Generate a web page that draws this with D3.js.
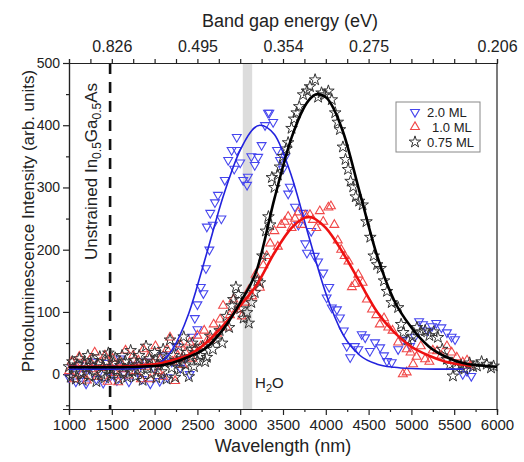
<!DOCTYPE html>
<html>
<head>
<meta charset="utf-8">
<script src="https://cdn.jsdelivr.net/npm/d3@7"></script>
<style>
  body { margin: 0; background: #fff; }
  text { font-family: "Liberation Sans", Arial, sans-serif; fill: #222; }
</style>
</head>
<body>
<div id="chart"></div>
<script>
// measured points [wavelength nm, intensity] for each coverage
const ml20 = [
  [1000,-5],[1040,10],[1080,-12],[1120,15],[1160,0],[1200,-15],[1240,8],[1280,20],[1320,-8],[1360,5],
  [1400,-14],[1440,18],[1480,-4],[1520,10],[1560,-10],[1600,25],[1650,0],[1700,-12],[1750,15],[1800,5],
  [1850,-8],[1900,20],[1950,-15],[2000,8],[2060,-11],[2100,30],[2150,-5],[2200,20],[2250,45],[2300,10],
  [2350,25],[2410,0],[2440,60],[2470,90],[2500,72],[2500,112],[2540,140],[2570,130],[2600,170],[2610,237],
  [2640,200],[2650,259],[2680,240],[2705,276],[2740,288],[2780,250],[2820,312],[2860,344],[2900,360],[2930,330],
  [2960,360],[2960,381],[3000,340],[3035,312],[3080,304],[3090,317],[3130,350],[3170,336],[3210,349],[3250,368],
  [3290,400],[3325,420],[3340,420],[3385,405],[3430,360],[3465,344],[3500,330],[3525,349],[3560,290],[3580,301],
  [3640,269],[3680,240],[3735,259],[3760,210],[3780,195],[3830,230],[3870,190],[3910,181],[3970,163],[4010,123],
  [4040,140],[4070,107],[4130,104],[4165,91],[4210,70],[4245,45],[4285,27],[4340,45],[4380,40],[4420,64],
  [4460,59],[4515,37],[4575,51],[4635,43],[4680,30],[4715,21],[4770,19],[4845,40],[4900,55],[4985,45],
  [5040,60],[5090,85],[5135,80],[5190,70],[5240,77],[5290,82],[5350,75],[5415,67],[5470,60],[5510,56],
  [5600,0],[5650,5],[5700,-3]
];
const ml10 = [
  [1000,5],[1030,20],[1060,-8],[1090,12],[1120,28],[1150,0],[1180,15],[1210,-10],[1240,22],[1270,8],
  [1300,35],[1330,-4],[1360,18],[1390,10],[1420,30],[1450,-12],[1480,14],[1510,25],[1540,2],[1575,-13],
  [1600,20],[1630,8],[1660,38],[1690,-2],[1720,15],[1750,30],[1780,5],[1810,22],[1840,-8],[1870,40],
  [1900,12],[1930,28],[1950,-8],[1980,18],[2010,45],[2040,5],[2070,25],[2100,-4],[2145,40],[2180,59],
  [2210,20],[2240,-11],[2270,30],[2300,48],[2330,15],[2360,35],[2410,51],[2440,25],[2470,40],[2500,62],
  [2540,45],[2580,70],[2620,55],[2650,56],[2690,80],[2730,65],[2765,88],[2800,110],[2840,75],[2880,95],
  [2920,120],[2960,104],[3020,93],[3060,115],[3100,135],[3140,125],[3180,160],[3230,139],[3270,175],[3310,190],
  [3350,210],[3400,230],[3440,205],[3480,240],[3520,245],[3560,253],[3600,235],[3640,250],[3680,260],[3720,240],
  [3760,255],[3815,256],[3850,248],[3890,235],[3930,262],[3970,245],[4030,268],[4060,270],[4100,240],[4140,215],
  [4180,200],[4220,190],[4265,181],[4305,140],[4340,145],[4380,160],[4430,147],[4480,120],[4540,104],[4590,95],
  [4630,80],[4680,90],[4730,75],[4780,70],[4845,51],[4900,0],[4945,40],[4945,3],[4990,35],[5020,16],
  [5060,28],[5110,45],[5160,24],[5210,20],[5250,38],[5300,37],[5350,30],[5415,45],[5470,35],[5530,27],
  [5600,19],[5650,22],[5690,14]
];
const ml075 = [
  [1000,12],[1020,-5],[1040,20],[1060,8],[1080,-8],[1100,15],[1120,25],[1140,2],[1160,-10],[1180,18],
  [1200,10],[1220,30],[1240,-3],[1260,14],[1280,22],[1300,5],[1320,-12],[1340,16],[1360,28],[1380,0],
  [1400,12],[1420,-6],[1440,20],[1460,34],[1480,8],[1500,-2],[1520,18],[1540,26],[1560,6],[1580,-8],
  [1600,14],[1620,30],[1640,2],[1660,20],[1680,-5],[1700,12],[1720,38],[1740,4],[1760,22],[1780,-4],
  [1800,15],[1820,30],[1840,8],[1860,-10],[1880,18],[1900,45],[1920,10],[1940,25],[1960,0],[1980,20],
  [2000,35],[2020,-6],[2040,14],[2060,28],[2080,4],[2100,40],[2120,18],[2140,-8],[2160,22],[2180,55],
  [2200,10],[2220,30],[2240,-5],[2260,20],[2280,45],[2300,8],[2320,25],[2340,60],[2360,15],[2380,35],
  [2400,-4],[2420,28],[2440,50],[2460,12],[2480,40],[2500,22],[2530,30],[2560,45],[2590,20],[2610,27],
  [2650,61],[2680,40],[2720,55],[2760,70],[2790,50],[2840,93],[2870,75],[2900,110],[2920,120],[2950,140],
  [2980,128],[3000,105],[3040,90],[3080,99],[3100,82],[3130,115],[3170,131],[3200,150],[3230,147],[3260,190],
  [3300,230],[3330,253],[3350,240],[3370,316],[3400,300],[3440,320],[3465,333],[3500,350],[3540,362],[3560,372],
  [3600,395],[3630,410],[3660,420],[3690,430],[3735,449],[3780,455],[3815,462],[3875,473],[3910,445],[3950,452],
  [3990,449],[4030,455],[4070,441],[4110,420],[4140,405],[4165,393],[4200,365],[4230,345],[4260,329],[4290,310],
  [4320,301],[4350,285],[4390,278],[4430,272],[4475,245],[4520,220],[4560,190],[4600,176],[4640,170],[4680,150],
  [4715,133],[4770,115],[4845,107],[4880,80],[4905,67],[4960,55],[5010,60],[5065,75],[5110,68],[5160,70],
  [5210,62],[5260,68],[5310,59],[5360,40],[5415,24],[5450,15],[5485,-3],[5530,10],[5580,14],[5620,8],
  [5680,18],[5720,12],[5765,13],[5820,20],[5880,16],[5930,10],[5960,13]
];

// fitted curves
const fit20 = [
  [1000,8],[1500,8],[1800,9],[2000,14],[2200,38],[2400,98],[2600,190],[2800,285],[3000,360],[3230,400],
  [3400,385],[3600,318],[3800,222],[4000,130],[4200,64],[4400,30],[4600,16],[4800,11],[5000,9],[5300,8],[5600,8]
];
const fit10 = [
  [1000,12],[1500,12],[2000,16],[2200,22],[2400,31],[2600,50],[2800,78],[3000,110],[3200,145],[3400,195],
  [3600,235],[3800,253],[4000,235],[4200,195],[4400,147],[4600,100],[4800,67],[5000,44],[5200,30],[5400,20],
  [5600,15],[5700,13]
];
const fit075 = [
  [1000,11],[1500,11],[2000,13],[2200,18],[2400,28],[2600,42],[2800,72],[3000,115],[3200,170],[3400,282],
  [3600,380],[3800,440],[3900,450],[4000,445],[4200,390],[4400,290],[4600,190],[4800,118],[5000,75],[5200,45],
  [5400,28],[5600,18],[5800,14],[6000,12]
];

const topTicks = [1500, 2500, 3500, 4500, 6000];
const topLabels = ["0.826", "0.495", "0.354", "0.275", "0.206"];
const legendNames = ["2.0 ML", "1.0 ML", "0.75 ML"];

const width = 524, height = 462;
const margin = { top: 63, right: 27, bottom: 53, left: 69 };

const svg = d3.select("#chart").append("svg")
    .attr("width", width)
    .attr("height", height);

const x = d3.scaleLinear().domain([1000, 6000]).range([margin.left, width - margin.right]);
const y = d3.scaleLinear().domain([-56, 500]).range([height - margin.bottom, margin.top]);

// H2O absorption band
svg.append("rect")
    .attr("x", x(3030))
    .attr("y", margin.top)
    .attr("width", x(3140) - x(3030))
    .attr("height", y(-56) - y(500))
    .attr("fill", "#dcdcdc");

// InGaAs dashed marker
svg.append("line")
    .attr("x1", x(1480)).attr("x2", x(1480))
    .attr("y1", margin.top).attr("y2", y(-56))
    .attr("stroke", "#111")
    .attr("stroke-width", 2.6)
    .attr("stroke-dasharray", "11,8");

// axes
const bottomAxis = d3.axisBottom(x).tickValues(d3.range(1000, 6001, 500)).tickSize(6).tickPadding(4)
    .tickFormat(d3.format("d"));
const bottomMinor = d3.axisBottom(x).tickValues(d3.range(1250, 6000, 500)).tickSize(3).tickFormat("");
const topMinor = d3.axisTop(x).tickValues(d3.range(1000, 6001, 250)).tickSize(4).tickFormat("");
const topAxis = d3.axisTop(x).tickValues(topTicks).tickSize(0).tickPadding(11)
    .tickFormat((d, i) => topLabels[i]);
const leftAxis = d3.axisLeft(y).tickValues(d3.range(0, 501, 100)).tickSize(6).tickPadding(3)
    .tickFormat(d3.format("d"));
const leftMinor = d3.axisLeft(y).tickValues(d3.range(-50, 500, 100)).tickSize(3).tickFormat("");

const gB = svg.append("g").attr("transform", `translate(0,${y(-56)})`).call(bottomAxis);
svg.append("g").attr("transform", `translate(0,${y(-56)})`).call(bottomMinor);
svg.append("g").attr("transform", `translate(0,${margin.top})`).call(topMinor);
const gT = svg.append("g").attr("transform", `translate(0,${margin.top})`).call(topAxis);
const gL = svg.append("g").attr("transform", `translate(${margin.left},0)`).call(leftAxis);
svg.append("g").attr("transform", `translate(${margin.left},0)`).call(leftMinor);

gB.selectAll("text").attr("font-size", 15);
gT.selectAll("text").attr("font-size", 16);
gL.selectAll("text").attr("font-size", 14);
svg.selectAll(".domain").attr("stroke", "#222").attr("stroke-width", 1.2);
svg.selectAll(".tick line").attr("stroke", "#222").attr("stroke-width", 1.2);
svg.selectAll(".tick text").attr("font-family", "Liberation Sans, Arial, sans-serif").attr("fill", "#222");

// right frame line
svg.append("line")
    .attr("x1", x(6000)).attr("x2", x(6000))
    .attr("y1", margin.top).attr("y2", y(-56))
    .attr("stroke", "#222").attr("stroke-width", 1.2);

// axis titles
svg.append("text")
    .attr("x", (x(1000) + x(6000)) / 2).attr("y", 452)
    .attr("text-anchor", "middle").attr("font-size", 18)
    .text("Wavelength (nm)");
svg.append("text")
    .attr("x", 290).attr("y", 27)
    .attr("text-anchor", "middle").attr("font-size", 18)
    .text("Band gap energy (eV)");
svg.append("text")
    .attr("transform", `translate(34,${(y(500) + y(-56)) / 2 - 15}) rotate(-90)`)
    .attr("text-anchor", "middle").attr("font-size", 17)
    .text("Photoluminescence Intensity (arb. units)");

// annotation texts
const ann = svg.append("text")
    .attr("transform", `translate(${x(1480) - 13},260) rotate(-90)`)
    .attr("font-size", 17);
ann.append("tspan").text("Unstrained In");
ann.append("tspan").attr("font-size", 12).attr("dy", 4).text("0.5");
ann.append("tspan").attr("dy", -4).text("Ga");
ann.append("tspan").attr("font-size", 12).attr("dy", 4).text("0.5");
ann.append("tspan").attr("dy", -4).text("As");

const h2o = svg.append("text").attr("x", x(3150) + 2).attr("y", 388).attr("font-size", 15);
h2o.append("tspan").text("H");
h2o.append("tspan").attr("font-size", 11).attr("dy", 4).text("2");
h2o.append("tspan").attr("dy", -4).text("O");

// markers
const triUp = d3.symbol().type(d3.symbolTriangle).size(34);
const star = d3.symbol().type(d3.symbolStar).size(42);

const blue = "#4646ee", red = "#f04848", dark = "#333";

svg.append("g").selectAll("path").data(ml20).join("path")
    .attr("d", triUp)
    .attr("transform", d => `translate(${x(d[0])},${y(d[1])}) rotate(180)`)
    .attr("fill", "none").attr("stroke", blue).attr("stroke-width", 1.1);

svg.append("g").selectAll("path").data(ml10).join("path")
    .attr("d", triUp)
    .attr("transform", d => `translate(${x(d[0])},${y(d[1])})`)
    .attr("fill", "none").attr("stroke", red).attr("stroke-width", 1.1);

svg.append("g").selectAll("path").data(ml075).join("path")
    .attr("d", star)
    .attr("transform", d => `translate(${x(d[0])},${y(d[1])})`)
    .attr("fill", "none").attr("stroke", dark).attr("stroke-width", 1);

// fit lines
const line = d3.line().x(d => x(d[0])).y(d => y(d[1])).curve(d3.curveMonotoneX);

svg.append("path").datum(fit20).attr("d", line)
    .attr("fill", "none").attr("stroke", "#2222dd").attr("stroke-width", 1.6);
svg.append("path").datum(fit10).attr("d", line)
    .attr("fill", "none").attr("stroke", "#ee1111").attr("stroke-width", 2.6);
svg.append("path").datum(fit075).attr("d", line)
    .attr("fill", "none").attr("stroke", "#000").attr("stroke-width", 2.6);

// legend
const lg = svg.append("g");
lg.append("rect")
    .attr("x", 396).attr("y", 102).attr("width", 84).attr("height", 50)
    .attr("fill", "#fff").attr("stroke", "#888").attr("stroke-width", 1);
const legendMarks = [
  { path: triUp, rot: 180, color: blue, w: 1.1 },
  { path: triUp, rot: 0, color: red, w: 1.1 },
  { path: star, rot: 0, color: dark, w: 1 }
];
legendNames.forEach((name, i) => {
  const ly = 112 + i * 15;
  lg.append("path")
      .attr("d", legendMarks[i].path)
      .attr("transform", `translate(415,${ly}) rotate(${legendMarks[i].rot})`)
      .attr("fill", "none").attr("stroke", legendMarks[i].color).attr("stroke-width", legendMarks[i].w);
  lg.append("text")
      .attr("x", i === 1 ? 432 : 427).attr("y", ly + 5)
      .attr("font-size", 13)
      .text(name);
});
</script>
</body>
</html>
